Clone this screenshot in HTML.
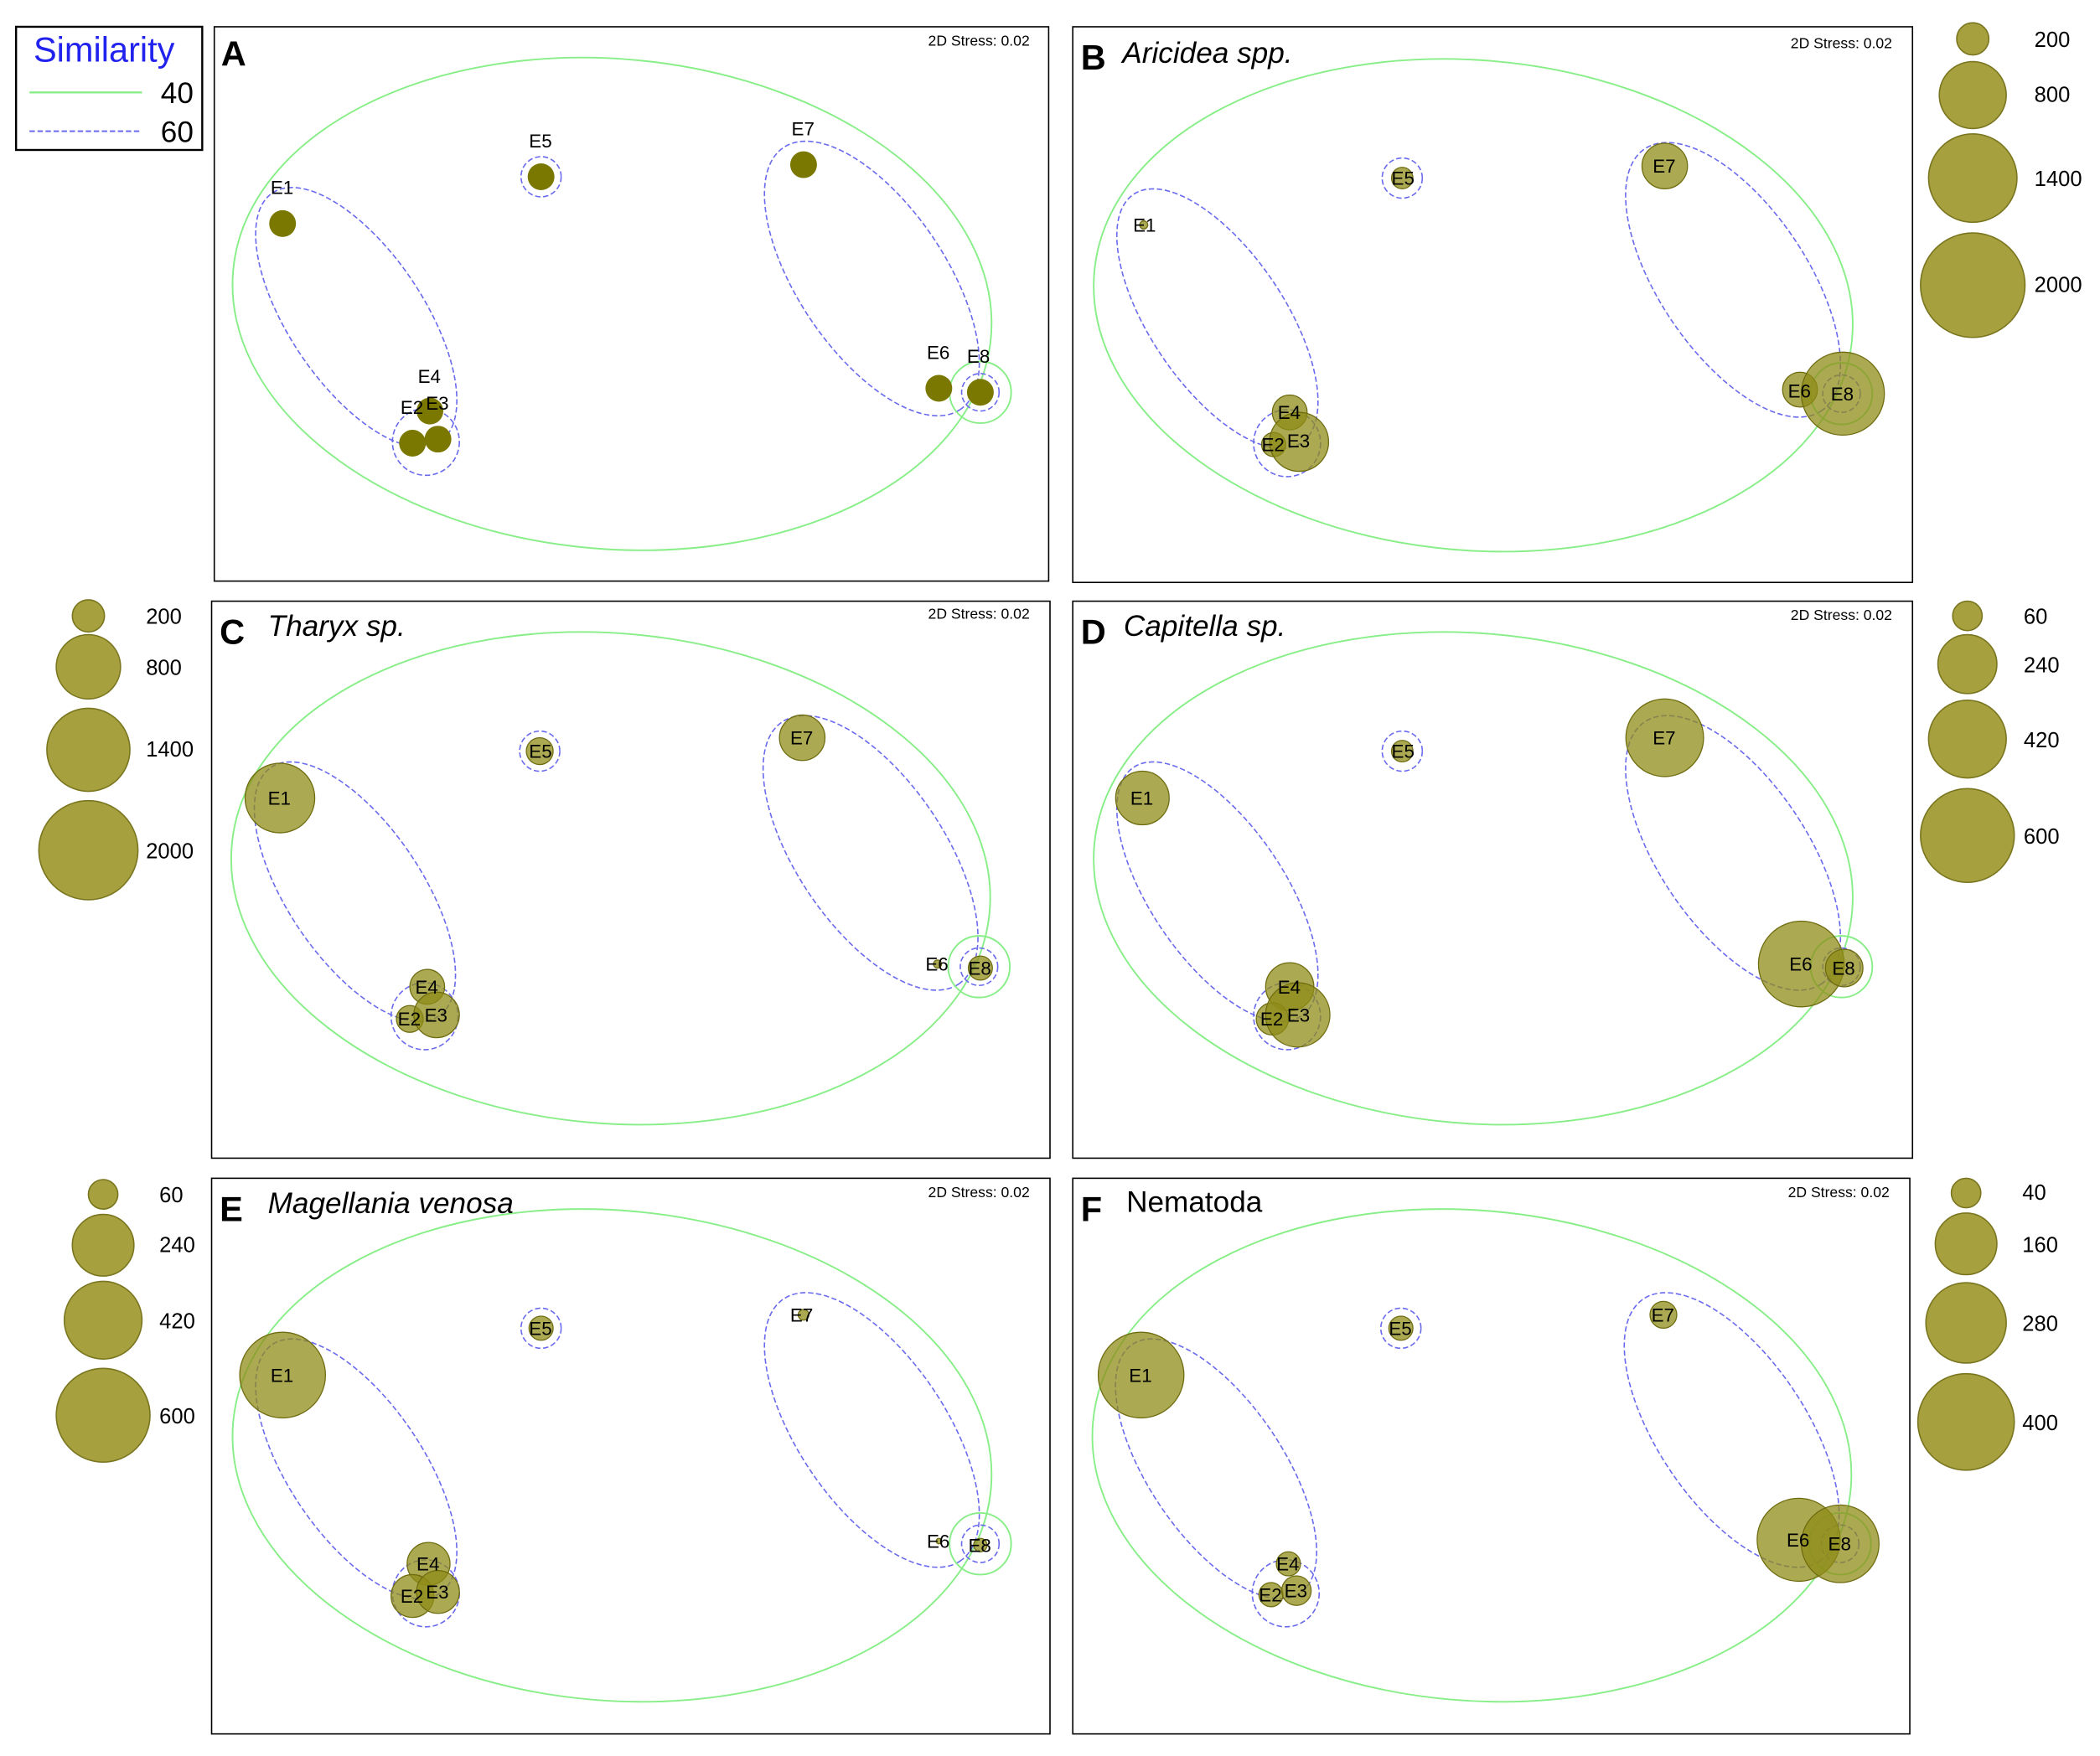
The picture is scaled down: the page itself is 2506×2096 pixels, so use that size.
<!DOCTYPE html>
<html><head><meta charset="utf-8"><style>
html,body{margin:0;padding:0;background:#fff;}
svg{display:block;}
text{font-family:"Liberation Sans",Arial,sans-serif;}
</style></head><body>
<svg width="2506" height="2096" viewBox="0 0 1568 1311.5" preserveAspectRatio="none" xmlns="http://www.w3.org/2000/svg">
<defs>
<g id="ell">
<ellipse cx="457" cy="227" rx="284" ry="183" transform="rotate(5 457 227)" fill="none" stroke="#88ee88" stroke-width="1.2"/>
<ellipse cx="266" cy="237" rx="112" ry="50" transform="rotate(56 266 237)" fill="none" stroke="#6a6aee" stroke-width="1" stroke-dasharray="4,2"/>
<ellipse cx="651" cy="208" rx="118" ry="55" transform="rotate(56 651 208)" fill="none" stroke="#6a6aee" stroke-width="1" stroke-dasharray="4,2"/>
<circle cx="404" cy="132" r="15" fill="none" stroke="#6a6aee" stroke-dasharray="4,2"/>
<circle cx="318" cy="330" r="25" fill="none" stroke="#6a6aee" stroke-dasharray="4,2"/>
<circle cx="732" cy="293" r="14" fill="none" stroke="#6a6aee" stroke-dasharray="4,2"/>
<circle cx="732" cy="293" r="23" fill="none" stroke="#88ee88" stroke-width="1.2"/>
</g>
</defs>
<g font-size="14" fill="#000">
<rect x="12" y="20" width="139" height="92" fill="#fff" stroke="#000" stroke-width="1.5"/>
<text x="25" y="46" font-size="26" fill="#2222ee">Similarity</text>
<line x1="22" y1="69" x2="106" y2="69" stroke="#88ee88" stroke-width="1.5"/>
<line x1="22" y1="98" x2="106" y2="98" stroke="#6a6aee" stroke-dasharray="4,2" stroke-width="1.2"/>
<text x="120" y="77" font-size="22">40</text>
<text x="120" y="106" font-size="22">60</text>

<rect x="160" y="20" width="623" height="414" fill="none" stroke="#000" stroke-width="1"/>
<rect x="801" y="20" width="627" height="415" fill="none" stroke="#000"/>
<rect x="158" y="449" width="626" height="416" fill="none" stroke="#000"/>
<rect x="801" y="449" width="627" height="416" fill="none" stroke="#000"/>
<rect x="158" y="880" width="626" height="415" fill="none" stroke="#000"/>
<rect x="801" y="880" width="625" height="415" fill="none" stroke="#000"/>

<g>
<use href="#ell"/>
<text x="165" y="49" font-size="26" font-weight="bold">A</text>
<text x="693" y="34" font-size="11">2D Stress: 0.02</text>
<g fill="#7a7800">
<circle cx="211" cy="167" r="10"/><circle cx="404" cy="132" r="10"/><circle cx="600" cy="123" r="10"/>
<circle cx="701" cy="290" r="10"/><circle cx="732" cy="293" r="10"/><circle cx="321" cy="307" r="10"/>
<circle cx="308" cy="331" r="10"/><circle cx="327" cy="328" r="10"/>
</g>
<text x="202" y="145">E1</text><text x="395" y="110">E5</text><text x="591" y="101">E7</text>
<text x="692" y="268">E6</text><text x="722" y="271">E8</text><text x="312" y="286">E4</text>
<text x="299" y="309">E2</text><text x="318" y="306">E3</text>
</g>

<g transform="translate(643,1)">
<use href="#ell"/>
<g fill="#8f8c18" fill-opacity="0.75" stroke="#6f6c10" stroke-width="0.8">
<circle cx="404" cy="132" r="8"/><circle cx="211" cy="167" r="3"/><circle cx="600" cy="123" r="17"/>
<circle cx="701" cy="290" r="13"/><circle cx="733" cy="293" r="31"/><circle cx="320" cy="307" r="13"/>
<circle cx="308" cy="331" r="9"/><circle cx="327" cy="329" r="22"/>
</g>
<g>
<text x="396" y="137">E5</text><text x="203" y="172">E1</text><text x="591" y="128">E7</text>
<text x="692" y="296">E6</text><text x="724" y="298">E8</text><text x="311" y="312">E4</text>
<text x="299" y="336">E2</text><text x="318" y="333">E3</text>
</g>
</g>
<text x="807" y="52" font-size="26" font-weight="bold">B</text>
<text x="838" y="47" font-size="22" font-style="italic">Aricidea spp.</text>
<text x="1337" y="36" font-size="11">2D Stress: 0.02</text>

<g transform="translate(-1,429)">
<use href="#ell"/>
<g fill="#8f8c18" fill-opacity="0.75" stroke="#6f6c10" stroke-width="0.8">
<circle cx="210" cy="167" r="26"/><circle cx="404" cy="132" r="10"/><circle cx="600" cy="122" r="17"/>
<circle cx="701" cy="291" r="3"/><circle cx="733" cy="294" r="9"/><circle cx="320" cy="308" r="13"/>
<circle cx="307" cy="332" r="10"/><circle cx="327" cy="329" r="17"/>
</g>
<g>
<text x="201" y="172">E1</text><text x="396" y="137">E5</text><text x="591" y="127">E7</text>
<text x="692" y="296">E6</text><text x="724" y="299">E8</text><text x="311" y="313">E4</text>
<text x="298" y="337">E2</text><text x="318" y="334">E3</text>
</g>
</g>
<text x="164" y="481" font-size="26" font-weight="bold">C</text>
<text x="200" y="475" font-size="22" font-style="italic">Tharyx sp.</text>
<text x="693" y="462" font-size="11">2D Stress: 0.02</text>

<g transform="translate(643,429)">
<use href="#ell"/>
<g fill="#8f8c18" fill-opacity="0.75" stroke="#6f6c10" stroke-width="0.8">
<circle cx="210" cy="167" r="20"/><circle cx="404" cy="132" r="8"/><circle cx="600" cy="122" r="29"/>
<circle cx="702" cy="291" r="32"/><circle cx="734" cy="294" r="14"/><circle cx="320" cy="308" r="18"/>
<circle cx="307" cy="332" r="12"/><circle cx="326" cy="329" r="24"/>
</g>
<g>
<text x="201" y="172">E1</text><text x="396" y="137">E5</text><text x="591" y="127">E7</text>
<text x="693" y="296">E6</text><text x="725" y="299">E8</text><text x="311" y="313">E4</text>
<text x="298" y="337">E2</text><text x="318" y="334">E3</text>
</g>
</g>
<text x="807" y="481" font-size="26" font-weight="bold">D</text>
<text x="839" y="475" font-size="22" font-style="italic">Capitella sp.</text>
<text x="1337" y="463" font-size="11">2D Stress: 0.02</text>

<g transform="translate(0,860)">
<use href="#ell"/>
<g fill="#8f8c18" fill-opacity="0.75" stroke="#6f6c10" stroke-width="0.8">
<circle cx="211" cy="167" r="32"/><circle cx="404" cy="132" r="9"/><circle cx="600" cy="122" r="4"/>
<circle cx="701" cy="291" r="2"/><circle cx="732" cy="294" r="5"/><circle cx="320" cy="308" r="16"/>
<circle cx="308" cy="332" r="16"/><circle cx="327" cy="329" r="16"/>
</g>
<g>
<text x="202" y="172">E1</text><text x="395" y="137">E5</text><text x="590" y="127">E7</text>
<text x="692" y="296">E6</text><text x="723" y="299">E8</text><text x="311" y="313">E4</text>
<text x="299" y="337">E2</text><text x="318" y="334">E3</text>
</g>
</g>
<text x="164" y="912" font-size="26" font-weight="bold">E</text>
<text x="200" y="906" font-size="22" font-style="italic">Magellania venosa</text>
<text x="693" y="894" font-size="11">2D Stress: 0.02</text>

<g transform="translate(642,860)">
<use href="#ell"/>
<g fill="#8f8c18" fill-opacity="0.75" stroke="#6f6c10" stroke-width="0.8">
<circle cx="210" cy="167" r="32"/><circle cx="404" cy="132" r="9"/><circle cx="600" cy="122" r="10"/>
<circle cx="701" cy="290" r="31"/><circle cx="732" cy="293" r="29"/><circle cx="320" cy="308" r="9"/>
<circle cx="307" cy="331" r="9"/><circle cx="326" cy="328" r="11"/>
</g>
<g>
<text x="201" y="172">E1</text><text x="395" y="137">E5</text><text x="591" y="127">E7</text>
<text x="692" y="295">E6</text><text x="723" y="298">E8</text><text x="311" y="313">E4</text>
<text x="298" y="336">E2</text><text x="317" y="333">E3</text>
</g>
</g>
<text x="807" y="912" font-size="26" font-weight="bold">F</text>
<text x="841" y="905" font-size="22">Nematoda</text>
<text x="1335" y="894" font-size="11">2D Stress: 0.02</text>

<g fill="#a6a03e" stroke="#7a7620" stroke-width="1">
<circle cx="1473" cy="29" r="12"/><circle cx="1473" cy="71" r="25"/><circle cx="1473" cy="133" r="33"/><circle cx="1473" cy="213" r="39"/>
<circle cx="66" cy="460" r="12"/><circle cx="66" cy="498" r="24"/><circle cx="66" cy="560" r="31"/><circle cx="66" cy="635" r="37"/>
<circle cx="1469" cy="460" r="11"/><circle cx="1469" cy="496" r="22"/><circle cx="1469" cy="552" r="29"/><circle cx="1469" cy="624" r="35"/>
<circle cx="77" cy="892" r="11"/><circle cx="77" cy="930" r="23"/><circle cx="77" cy="986" r="29"/><circle cx="77" cy="1057" r="35"/>
<circle cx="1468" cy="891" r="11"/><circle cx="1468" cy="929" r="23"/><circle cx="1468" cy="988" r="30"/><circle cx="1468" cy="1062" r="36"/>
</g>
<g font-size="16">
<text x="1519" y="35">200</text><text x="1519" y="76">800</text><text x="1519" y="139">1400</text><text x="1519" y="218">2000</text>
<text x="109" y="466">200</text><text x="109" y="504">800</text><text x="109" y="565">1400</text><text x="109" y="641">2000</text>
<text x="1511" y="466">60</text><text x="1511" y="502">240</text><text x="1511" y="558">420</text><text x="1511" y="630">600</text>
<text x="119" y="898">60</text><text x="119" y="935">240</text><text x="119" y="992">420</text><text x="119" y="1063">600</text>
<text x="1510" y="896">40</text><text x="1510" y="935">160</text><text x="1510" y="994">280</text><text x="1510" y="1068">400</text>
</g>
</g>
</svg>
</body></html>
